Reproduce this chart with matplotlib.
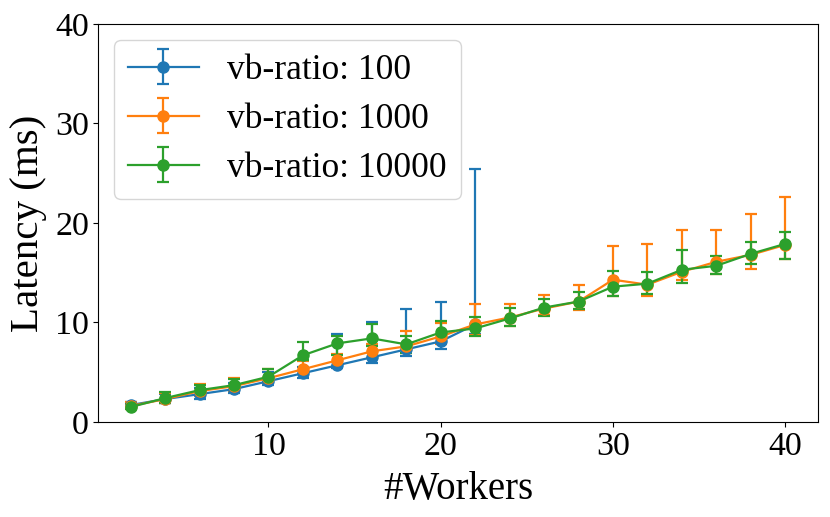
import matplotlib
matplotlib.use("Agg")
import matplotlib.pyplot as plt
import numpy as np

plt.rcParams['font.family'] = ['Liberation Serif', 'DejaVu Serif']
plt.rcParams['mathtext.fontset'] = 'stix'

x_100 = [2, 4, 6, 8, 10, 12, 14, 16, 18, 20, 22]
mean_100 = [1.7, 2.3, 2.8, 3.3, 4.1, 4.9, 5.7, 6.5, 7.3, 8.1, 9.8]
lo_100 = [1.4, 1.9, 2.3, 2.9, 3.7, 4.4, 5.4, 5.9, 6.6, 7.3, 8.8]
hi_100 = [2.0, 2.8, 3.4, 3.9, 5.0, 5.5, 8.8, 10.0, 11.4, 12.1, 25.4]

x_all = [2, 4, 6, 8, 10, 12, 14, 16, 18, 20, 22, 24, 26, 28, 30, 32, 34, 36, 38, 40]
mean_1000 = [1.6, 2.3, 3.1, 3.6, 4.4, 5.3, 6.2, 7.1, 7.6, 8.6, 9.8, 10.5, 11.4, 12.1, 14.3, 13.8, 15.1, 16.1, 16.8, 17.8]
lo_1000 = [1.3, 1.9, 2.6, 3.1, 3.9, 4.8, 5.6, 6.4, 6.9, 7.8, 8.7, 9.6, 10.8, 11.3, 12.7, 12.7, 14.3, 14.9, 15.4, 16.4]
hi_1000 = [2.0, 2.9, 3.8, 4.4, 5.3, 6.1, 6.8, 7.8, 9.1, 9.9, 11.9, 11.9, 12.8, 13.8, 17.7, 17.9, 19.3, 19.3, 20.9, 22.6]

mean_10000 = [1.5, 2.4, 3.2, 3.7, 4.55, 6.7, 7.9, 8.4, 7.8, 9.0, 9.4, 10.4, 11.5, 12.1, 13.6, 13.9, 15.3, 15.7, 16.9, 17.9]
lo_10000 = [1.3, 1.9, 2.7, 3.2, 4.0, 6.2, 6.7, 7.6, 6.9, 8.4, 8.6, 9.6, 10.7, 11.4, 12.7, 12.9, 14.0, 14.9, 15.9, 16.4]
hi_10000 = [1.8, 3.0, 3.7, 4.3, 5.3, 8.0, 8.6, 9.8, 8.6, 10.1, 10.6, 11.5, 12.4, 13.1, 15.2, 15.1, 17.3, 16.7, 18.1, 19.1]

labels = ['vb-ratio: 100', 'vb-ratio: 1000', 'vb-ratio: 10000']

fig = plt.figure(figsize=(8.3, 5.17), dpi=100)
ax = fig.add_axes([0.118, 0.1838, 0.8675, 0.7698])

series = [
    (x_100, mean_100, lo_100, hi_100, 'tab:blue', labels[0]),
    (x_all, mean_1000, lo_1000, hi_1000, 'tab:orange', labels[1]),
    (x_all, mean_10000, lo_10000, hi_10000, 'tab:green', labels[2]),
]
for xs, m, lo, hi, c, lab in series:
    m = np.array(m); lo = np.array(lo); hi = np.array(hi)
    ax.errorbar(xs, m, yerr=[m - lo, hi - m], color=c, marker='o', markersize=8,
                linewidth=1.6, capsize=4.5, elinewidth=1.6, capthick=1.6, label=lab)

ax.set_ylim(0, 40)
ax.set_yticks([0, 10, 20, 30, 40])
ax.set_xticks([10, 20, 30, 40])
ax.tick_params(labelsize=24.5, pad=3)
ax.set_xlabel('#Workers', fontsize=28, labelpad=7)
ax.set_ylabel('Latency (ms)', fontsize=29.5, labelpad=6)
ax.legend(loc='upper left', fontsize=25.5, borderaxespad=0.45, handlelength=2.0,
          labelspacing=0.45)

fig.savefig('out.png', dpi=100)
